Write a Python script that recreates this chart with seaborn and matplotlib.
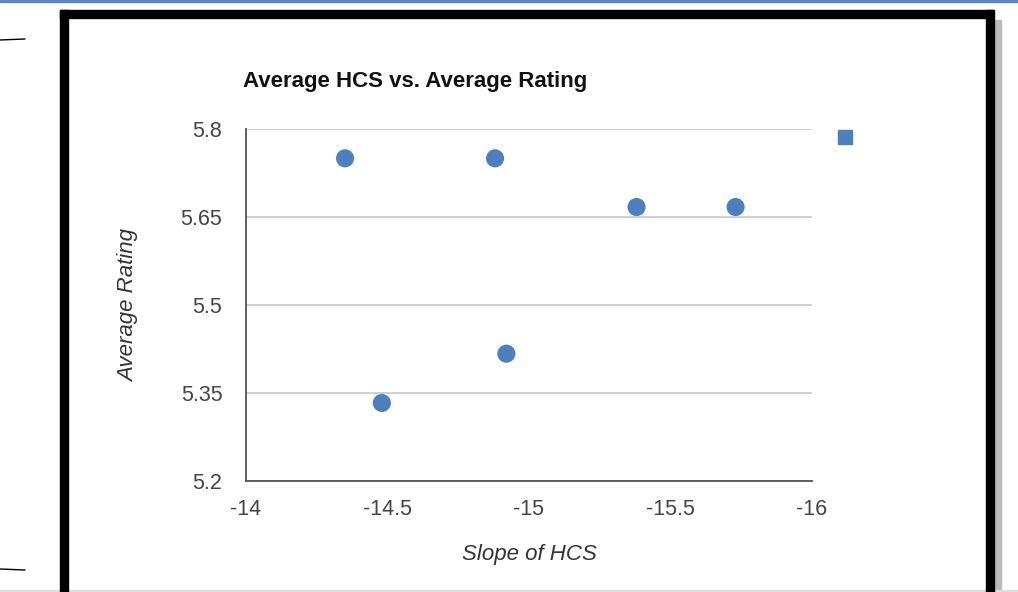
import seaborn as sns
import matplotlib.pyplot as plt
import pandas as pd
from matplotlib.lines import Line2D
from matplotlib.patches import Rectangle

# values
slope_hcs = [-14.35, -14.88, -15.38, -15.73, -14.48, -14.92]
avg_rating = [5.75, 5.75, 5.667, 5.667, 5.333, 5.417]
x_ticks = [-14, -14.5, -15, -15.5, -16]
x_tick_labels = ["-14", "-14.5", "-15", "-15.5", "-16"]
y_ticks = [5.2, 5.35, 5.5, 5.65, 5.8]
y_tick_labels = ["5.2", "5.35", "5.5", "5.65", "5.8"]

df = pd.DataFrame({"slope": slope_hcs, "rating": avg_rating})

sns.set_style("white")
plt.rcParams['font.family'] = ['Liberation Sans', 'DejaVu Sans']

W, H = 1018, 592
fig = plt.figure(figsize=(W / 100, H / 100), dpi=100)
ax = fig.add_axes([246 / W, (H - 481) / H, (812 - 246) / W, (481 - 129) / H])

blue = "#4d7fbf"
sns.scatterplot(data=df, x="slope", y="rating", ax=ax, color=blue,
                s=170, edgecolor="none", legend=False, zorder=3)

ax.set_xlim(-14, -16)
ax.set_ylim(5.2, 5.8)
ax.set_xticks(x_ticks)
ax.set_xticklabels(x_tick_labels)
ax.set_yticks(y_ticks)
ax.set_yticklabels(y_tick_labels)
ax.tick_params(length=0, labelsize=15.5, colors="#444444")
ax.tick_params(axis="y", pad=17)
ax.tick_params(axis="x", pad=13)
ax.yaxis.grid(True, color="#cccccc", linewidth=1.3)
ax.set_axisbelow(True)
for side in ["top", "right"]:
    ax.spines[side].set_visible(False)
for side in ["left", "bottom"]:
    ax.spines[side].set_color("#555555")
    ax.spines[side].set_linewidth(1.3)

ax.set_xlabel("Slope of HCS", fontsize=16, style="italic", color="#333333", labelpad=17)
ax.set_ylabel("Average Rating", fontsize=16, style="italic", color="#333333", labelpad=30)

fig.text(243 / W, 1 - 81 / H, "Average HCS vs. Average Rating",
         fontsize=16, fontweight="bold", va="center", ha="left", color="#111111")

# legend: a single square with no text
handle = Line2D([], [], marker="s", linestyle="none", markersize=10.5,
                markerfacecolor=blue, markeredgecolor=blue)
fig.legend([handle], [""], loc="center", bbox_to_anchor=(845 / W, 1 - 138 / H),
           frameon=False, handlelength=0.6, handletextpad=0, borderpad=0)

# screenshot frame
fig.patches.append(Rectangle((0, 1 - 2 / H), 1, 2 / H, transform=fig.transFigure,
                             color="#5b86c6", zorder=0))
fig.patches.append(Rectangle((993 / W, 0), 8 / W, 1 - 20 / H, transform=fig.transFigure,
                             color="#bbbbbb", zorder=0))
fig.patches.append(Rectangle((60 / W, 0), 8 / W, 1 - 10 / H, transform=fig.transFigure,
                             color="black", zorder=1))
fig.patches.append(Rectangle((60 / W, 1 - 18 / H), (993 - 60) / W, 8 / H,
                             transform=fig.transFigure, color="black", zorder=1))
fig.patches.append(Rectangle((986 / W, 0), 8 / W, 1 - 10 / H, transform=fig.transFigure,
                             color="black", zorder=1))
fig.patches.append(Rectangle((0, 0), 1, 2 / H, transform=fig.transFigure,
                             color="#dddddd", zorder=0))
fig.lines.append(Line2D([0, 25 / W], [1 - 40 / H, 1 - 39 / H], transform=fig.transFigure,
                        color="black", linewidth=1))
fig.lines.append(Line2D([0, 25 / W], [1 - 569 / H, 1 - 570 / H], transform=fig.transFigure,
                        color="black", linewidth=1))

fig.savefig("out.png", dpi=100)
